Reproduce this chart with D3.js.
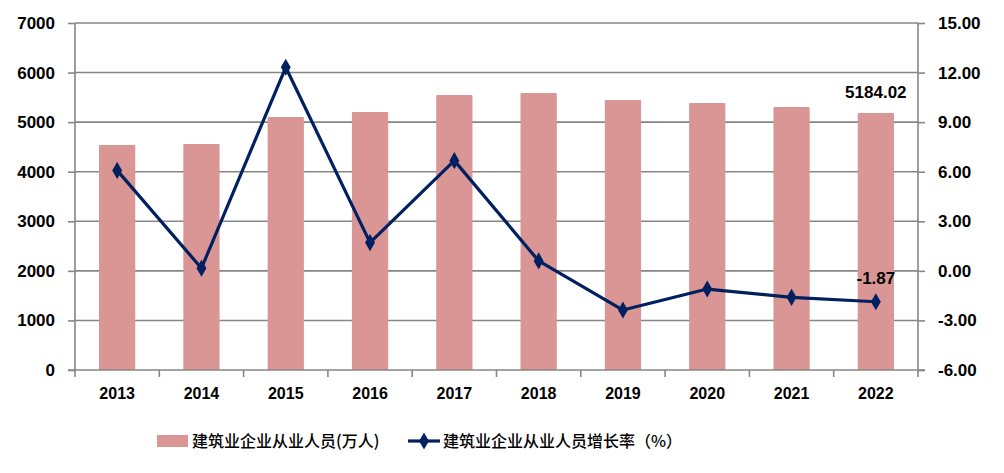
<!DOCTYPE html>
<html>
<head>
<meta charset="utf-8">
<script src="https://cdn.jsdelivr.net/npm/d3@7"></script>
<style>
  html, body { margin: 0; padding: 0; background: #fff; }
  svg { display: block; }
  .tick text { font-family: "Liberation Sans", Arial, sans-serif; font-weight: bold; fill: #000; }
</style>
</head>
<body>
<svg id="chart" width="1004" height="473"></svg>
<script>
const years = ["2013","2014","2015","2016","2017","2018","2019","2020","2021","2022"];
const employees = [4539, 4559, 5104, 5205, 5548, 5588, 5447, 5386, 5305, 5184.02];
const growthRate = [6.08, 0.16, 12.32, 1.71, 6.67, 0.60, -2.37, -1.10, -1.60, -1.87];
const leftTicks = [0, 1000, 2000, 3000, 4000, 5000, 6000, 7000];
const rightTicks = [-6, -3, 0, 3, 6, 9, 12, 15];
const barName = "建筑业企业从业人员(万人)";
const lineName = "建筑业企业从业人员增长率（%）";

(function () {
const svg = d3.select("#chart");
const pL = 75, pR = 918, pT = 23, pB = 370;
const gridColor = "#868686";
const barColor = "#D99694";
const lineColor = "#002060";
const fmt2 = v => d3.format(".2f")(v).replace("\u2212", "-");

const x = d3.scaleBand().domain(years).range([pL, pR]).paddingInner(0.57).paddingOuter(0.285);
const xOuter = d3.scaleBand().domain(years).range([pL, pR]);
const yL = d3.scaleLinear().domain([0, 7000]).range([pB, pT]);
const yR = d3.scaleLinear().domain([-6, 15]).range([pB, pT]);

// gridlines
svg.append("g").selectAll("line").data(leftTicks.slice(1)).join("line")
  .attr("x1", pL).attr("x2", pR)
  .attr("y1", d => yL(d)).attr("y2", d => yL(d))
  .attr("stroke", gridColor).attr("stroke-width", 1.6);

// bars
svg.append("g").selectAll("rect").data(years).join("rect")
  .attr("x", d => x(d)).attr("width", x.bandwidth())
  .attr("y", (d, i) => yL(employees[i]))
  .attr("height", (d, i) => yL(0) - yL(employees[i]))
  .attr("fill", barColor).attr("rx", 1);

// left axis
const gL = svg.append("g").attr("transform", `translate(${pL},0)`)
  .call(d3.axisLeft(yL).tickValues(leftTicks).tickSize(7).tickPadding(13).tickFormat(d3.format("d")));
gL.selectAll("text").attr("font-size", 17);
gL.select(".domain").attr("stroke", gridColor).attr("stroke-width", 1.6).attr("d", `M0,${pT}V${pB}`);
gL.selectAll(".tick line").attr("stroke", gridColor).attr("stroke-width", 1.6);

// right axis
const gR = svg.append("g").attr("transform", `translate(${pR},0)`)
  .call(d3.axisRight(yR).tickValues(rightTicks).tickSize(7).tickPadding(13).tickFormat(fmt2));
gR.selectAll("text").attr("font-size", 17);
gR.select(".domain").attr("stroke", gridColor).attr("stroke-width", 1.6).attr("d", `M0,${pT}V${pB}`);
gR.selectAll(".tick line").attr("stroke", gridColor).attr("stroke-width", 1.6);

// bottom axis
const gB = svg.append("g").attr("transform", `translate(0,${pB})`)
  .call(d3.axisBottom(x).tickSize(0).tickPadding(18));
gB.selectAll("text").attr("font-size", 16);
gB.select(".domain").attr("stroke", gridColor).attr("stroke-width", 1.6).attr("d", `M${pL - 7},0H${pR + 7}`);
const bounds = years.map(d => xOuter(d)).concat([pR]);
gB.append("g").selectAll("line").data(bounds).join("line")
  .attr("x1", d => d).attr("x2", d => d).attr("y1", 0).attr("y2", 7)
  .attr("stroke", gridColor).attr("stroke-width", 1.6);

// line
const cx = d => x(d) + x.bandwidth() / 2;
const line = d3.line().x((d, i) => cx(years[i])).y(d => yR(d));
svg.append("path").datum(growthRate).attr("d", line)
  .attr("fill", "none").attr("stroke", lineColor).attr("stroke-width", 3.2).attr("stroke-linejoin", "round");
const diamond = d3.symbol().type(d3.symbolDiamond).size(85);
svg.append("g").selectAll("path").data(growthRate).join("path")
  .attr("d", diamond)
  .attr("transform", (d, i) => `translate(${cx(years[i])},${yR(d)})`)
  .attr("fill", lineColor);

// data labels (last point)
const li = years.length - 1;
svg.append("text").attr("x", cx(years[li])).attr("y", yL(employees[li]) - 15)
  .attr("text-anchor", "middle").attr("font-family", "Liberation Sans, Arial, sans-serif")
  .attr("font-weight", "bold").attr("font-size", 17).text(fmt2(employees[li]));
svg.append("text").attr("x", cx(years[li])).attr("y", yR(growthRate[li]) - 18)
  .attr("text-anchor", "middle").attr("font-family", "Liberation Sans, Arial, sans-serif")
  .attr("font-weight", "bold").attr("font-size", 17).text(fmt2(growthRate[li]));

// legend
const lg = svg.append("g");
lg.append("rect").attr("x", 157).attr("y", 435).attr("width", 31).attr("height", 12).attr("fill", barColor);
lg.append("text").attr("x", 192).attr("y", 447).attr("font-family", "Noto Sans CJK SC, sans-serif")
  .attr("font-size", 16).attr("font-weight", 500).attr("fill", "#000").text(barName);
lg.append("line").attr("x1", 408).attr("x2", 440).attr("y1", 441).attr("y2", 441)
  .attr("stroke", lineColor).attr("stroke-width", 3.2);
lg.append("path").attr("d", diamond).attr("transform", "translate(424,441)").attr("fill", lineColor);
lg.append("text").attr("x", 443).attr("y", 447).attr("font-family", "Noto Sans CJK SC, sans-serif")
  .attr("font-size", 16).attr("font-weight", 500).attr("fill", "#000").text(lineName);
})();
</script>
</body>
</html>
